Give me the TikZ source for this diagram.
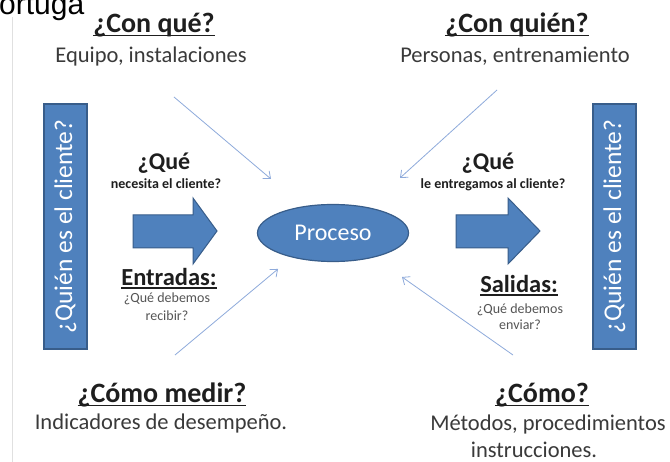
\documentclass[tikz,border=0pt]{standalone}
\usepackage{fontspec}
\setmainfont{Carlito}
\newfontfamily\arialf{Liberation Sans}
\usetikzlibrary{arrows.meta,shapes.geometric}
\definecolor{boxblue}{HTML}{4F81BD}
\definecolor{boxedge}{HTML}{385D8A}
\definecolor{thinblue}{HTML}{8EAADB}
\definecolor{txtdark}{HTML}{1E1E1E}
\definecolor{txtgray}{HTML}{3A3A3A}
\definecolor{txtsmall}{HTML}{555555}
\newcommand\myul[1]{\setbox0\hbox{#1}\rlap{\rule[-0.12em]{\wd0}{0.065em}}\box0}
\tikzset{
  title/.style={anchor=base, inner sep=0pt, text=txtdark, font=\fontsize{28}{30}\selectfont\bfseries},
  sub/.style={anchor=base, inner sep=0pt, text=txtgray, font=\fontsize{22.5}{26}\selectfont},
  que/.style={anchor=base, inner sep=0pt, text=txtdark, font=\fontsize{24}{26}\selectfont\bfseries},
  qsmall/.style={anchor=base, inner sep=0pt, text=txtdark, font=\fontsize{14}{16}\selectfont\bfseries},
  iotitle/.style={anchor=base, inner sep=0pt, text=txtdark, font=\fontsize{24.5}{26}\selectfont\bfseries},
  iosmall/.style={anchor=base, inner sep=0pt, text=txtsmall, font=\fontsize{14}{16}\selectfont},
  clientbox/.style={draw=boxedge, line width=1.2pt, fill=boxblue, minimum width=43pt, minimum height=245pt, inner sep=0pt},
  clienttext/.style={text=white, rotate=90, inner sep=0pt, font=\fontsize{25.5}{28}\selectfont},
  procnode/.style={ellipse, draw=boxedge, line width=1.2pt, fill=boxblue, minimum width=151pt, minimum height=57pt, inner sep=0pt, text=white, font=\fontsize{24}{26}\selectfont},
  bigarrow/.style={draw=boxedge, line width=1pt, fill=boxblue, line join=miter},
  thinarrow/.style={draw=thinblue, line width=0.8pt, -{Straight Barb[length=6pt,width=10pt,line width=0.8pt]}},
}
\begin{document}
\begin{tikzpicture}[x=1pt,y=-1pt]
\useasboundingbox[fill=white] (0,0) rectangle (670,462);
% cropped text and left rule
\node[anchor=base west, inner sep=0pt, font=\arialf\fontsize{30}{32}\selectfont] (tortuga) at (-1,15) {ortuga};
\draw[draw=black!12, line width=0.8pt] (12,17) -- (12,462);

% titles
\node[title] (conque) at (154,33) {\myul{¿Con qué?}};
\node[sub] (equipo) at (151,63) {Equipo, instalaciones};
\node[title] (conquien) at (517,33) {\myul{¿Con quién?}};
\node[sub] (personas) at (515,63) {Personas, entrenamiento};
\node[title] (comomedir) at (162,403) {\myul{¿Cómo medir?}};
\node[sub] (indicadores) at (161,430) {Indicadores de desempeño.};
\node[title] (como) at (542,403) {\myul{¿Cómo?}};
\node[sub] (metodos) at (548,431) {Métodos, procedimientos};
\node[sub] (instrucciones) at (534,457) {instrucciones.};

% client boxes
\node[clientbox] (cliL) at (65.5,226.5) {};
\node[clienttext] at (cliL.center) {¿Quién es el cliente?};
\node[clientbox] (cliR) at (614.5,226.5) {};
\node[clienttext] at (cliR.center) {¿Quién es el cliente?};

% process
\node[procnode] (proc) at (333,233) {Proceso};

% big arrows
\draw[bigarrow] (133,215) -- (193,215) -- (193,198) -- (217,231) -- (193,264) -- (193,248) -- (133,248) -- cycle;
\draw[bigarrow] (456,215) -- (508,215) -- (508,198) -- (540,231) -- (508,264) -- (508,248) -- (456,248) -- cycle;

% labels
\node[que] (queL) at (164,170) {¿Qué};
\node[qsmall] (necesita) at (166,189) {necesita el cliente?};
\node[que] (queR) at (488,170) {¿Qué};
\node[qsmall] (entregamos) at (493,189) {le entregamos al cliente?};
\node[iotitle] (entradas) at (169,286) {\myul{Entradas:}};
\node[iosmall] (debL) at (167,303) {¿Qué debemos};
\node[iosmall] (recibir) at (167,321) {recibir?};
\node[iotitle] (salidas) at (519,293) {\myul{Salidas:}};
\node[iosmall] (debR) at (520,314) {¿Qué debemos};
\node[iosmall] (enviar) at (520,330) {enviar?};

% thin arrows
\coordinate (tlS) at (174,97);
\coordinate (tlE) at (271,179);
\coordinate (blS) at (175,355);
\coordinate (blE) at (278,269);
\coordinate (trS) at (497,90);
\coordinate (trE) at (400,178);
\coordinate (brS) at (513,355);
\coordinate (brE) at (402,277);
\draw[thinarrow] (tlS) -- (tlE);
\draw[thinarrow] (blS) -- (blE);
\draw[thinarrow] (trS) -- (trE);
\draw[thinarrow] (brS) -- (brE);
\end{tikzpicture}
\end{document}
